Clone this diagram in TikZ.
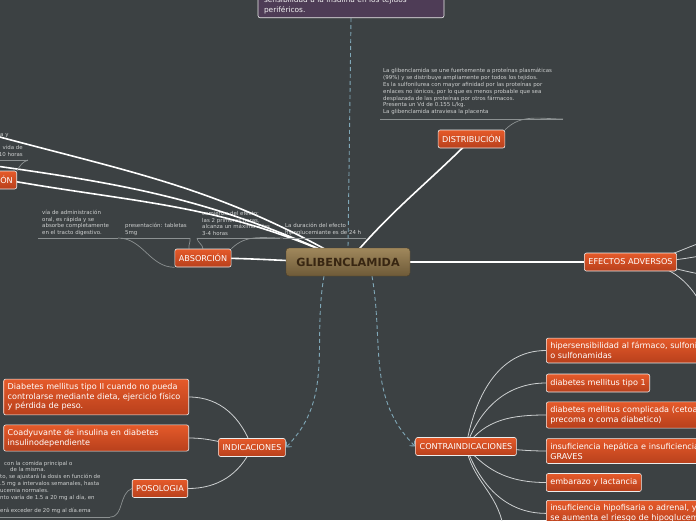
\documentclass[tikz,border=0pt]{standalone}
\usepackage{fontspec}
\setmainfont{DejaVu Sans}
\usepackage{tikz}
\usetikzlibrary{arrows.meta,positioning,backgrounds,calc}
\definecolor{mapbg}{RGB}{60,65,67}
\definecolor{topictop}{RGB}{229,90,42}
\definecolor{topicbot}{RGB}{184,64,28}
\definecolor{roottop}{RGB}{160,136,92}
\definecolor{rootbot}{RGB}{110,90,56}
\definecolor{roottext}{RGB}{56,38,18}
\definecolor{notebg}{RGB}{78,60,86}
\definecolor{linkblue}{RGB}{128,168,184}
\definecolor{memotext}{RGB}{206,208,208}
\definecolor{twig}{RGB}{205,208,209}
\definecolor{uline}{RGB}{140,145,146}

\begin{document}
\begin{tikzpicture}[x=1pt, y=1pt, font=\fontsize{8.1}{9.7}\selectfont,
  tp/.style={draw=white!85!gray, line width=0.6pt, rounded corners=2pt, top color=topictop, bottom color=topicbot, text=white, inner xsep=4pt, inner ysep=4.3pt, minimum height=18pt, align=left},
  rt/.style={draw=rootbot!70!black, rounded corners=3pt, top color=roottop, bottom color=rootbot, text=roottext, font=\fontsize{11.2}{13}\selectfont\bfseries, minimum width=124pt, minimum height=28pt},
  nb/.style={draw=white!85!gray, line width=0.6pt, rounded corners=2pt, fill=notebg, text=white!90!gray, font=\fontsize{7.4}{9.4}\selectfont, inner xsep=6pt, inner ysep=4pt, text width=174pt, align=left},
  mm/.style={text=memotext, font=\fontsize{5.45}{6.8}\selectfont, inner sep=0pt, align=left},
  br/.style={draw=white, line width=1.6pt},
  tw/.style={draw=twig, line width=0.8pt},
  ul/.style={draw=uline, line width=0.7pt},
  lk/.style={draw=linkblue, line width=0.9pt, dash pattern=on 4pt off 3pt}]
  \useasboundingbox (0,0) rectangle (696,-520);
  \clip (0,0) rectangle (696,-520);
  \node[rt] (glib) at (348,-262) {GLIBENCLAMIDA};
  \node[nb, anchor=south] (sens) at (351,-18) {sensibilidad a la insulina en los tejidos\\periféricos.};
  \node[tp] (dist) at (471.5,-139) {DISTRIBUCIÓN};
  \node[tp] (efec) at (630.5,-262) {EFECTOS ADVERSOS};
  \node[tp] (abs) at (203,-258) {ABSORCIÓN};
  \node[tp, anchor=east] (elim) at (17,-180) {ÓN};
  \node[tp] (ind) at (252,-447.5) {INDICACIONES};
  \node[tp] (contra) at (466,-446.5) {CONTRAINDICACIONES};
  \node[tp, anchor=east, text width=177pt] (dm2) at (189,-397) {Diabetes mellitus tipo II cuando no pueda\\controlarse mediante dieta, ejercicio físico\\y pérdida de peso.};
  \node[tp, anchor=east, text width=177pt] (coad) at (189,-438) {Coadyuvante de insulina en diabetes\\insulinodependiente};
  \node[tp] (pos) at (160,-488.5) {POSOLOGIA};
  \node[tp, anchor=west, text width=170pt] (ci1) at (546,-350.5) {hipersensibilidad al fármaco, sulfoni\\o sulfonamidas};
  \node[tp, anchor=west] (ci2) at (546,-383) {diabetes mellitus tipo 1};
  \node[tp, anchor=west, text width=170pt] (ci3) at (546,-415) {diabetes mellitus complicada (cetoac\\precoma o coma diabetico)};
  \node[tp, anchor=west, text width=170pt] (ci4) at (546,-451) {insuficiencia hepática e insuficiencia\\GRAVES};
  \node[tp, anchor=west] (ci5) at (546,-482.5) {embarazo y lactancia};
  \node[tp, anchor=north west, text width=170pt] (ci6) at (546,-500) {insuficiencia hipofisaria o adrenal, ya\\se aumenta el riesgo de hipoglucem};
  \begin{scope}[on background layer]
  \fill[mapbg] (0,0) rectangle (696,-520);
  \node[mm, anchor=south west] (distT) at (383,-115) {La glibenclamida se une fuertemente a proteínas plasmáticas\\(99\%) y se distribuye ampliamente por todos los tejidos.\\Es la sulfonilurea con mayor afinidad por las proteínas por\\enlaces no iónicos, por lo que es menos probable que sea\\desplazada de las proteínas por otros fármacos.\\Presenta un Vd de 0.155 L/kg.\\La glibenclamida atraviesa la placenta};
  \node[mm, anchor=south west] (viaT) at (42,-236) {vía de administración\\oral, es rápida y se\\absorbe completamente\\en el tracto digestivo.};
  \node[mm, anchor=south west] (presT) at (125,-236) {presentación: tabletas\\5mg};
  \node[mm, anchor=south west] (comT) at (202,-236) {comienzo del efecto:\\las 2 primeras horas,\\alcanza un máximo a las\\3-4 horas};
  \node[mm, anchor=south west] (durT) at (285,-236) {La duración del efecto\\hipoglucemiante es de 24 h};
  \node[mm, anchor=base west] (ayT) at (0,-136) {a y};
  \node[mm, anchor=south east, align=right] (vidaT) at (23,-157) {vida de\\10 horas};
  \node[mm, anchor=south west] (posT) at (0,-514) {\hspace{4pt}con la comida principal o\\\hspace{10pt}de la misma.\\to, se ajustará la dosis en función de\\.5 mg a intervalos semanales, hasta\\ucemia normales.\\nto varía de 1.5 a 20 mg al día, en\\\mbox{}\\erá exceder de 20 mg al día.ema};
  \coordinate (distL) at (380,-119); \coordinate (distR) at (563,-119);
  \coordinate (viaL) at (38,-238); \coordinate (viaR) at (118,-238);
  \coordinate (presL) at (121,-238); \coordinate (presR) at (190,-238);
  \coordinate (comL) at (197,-238); \coordinate (comR) at (280,-238);
  \coordinate (durL) at (283,-238); \coordinate (durR) at (366,-238);
  \coordinate (vidaL) at (0,-160); \coordinate (vidaR) at (28,-160);
  \coordinate (posL) at (0,-517); \coordinate (posR) at (110,-517);
  \coordinate (offA) at (-4,-136); \coordinate (offB) at (-4,-166);
  \coordinate (efA) at (700,-243); \coordinate (efB) at (700,-256);
  \coordinate (efC) at (700,-274); \coordinate (efD) at (700,-302);
  \coordinate (ciX) at (503,-526);
  \draw[lk] (sens.south) -- (glib.north);
  \draw[lk, -{Straight Barb[length=4pt, width=7pt]}] ([xshift=-24pt]glib.south) to[out=-100, in=45] (ind.east);
  \draw[lk, -{Straight Barb[length=4pt, width=7pt]}] ([xshift=24pt]glib.south) to[out=-80, in=135] (contra.west);
  \draw[br] (glib.center) to[out=50, in=-135] (dist.center);
  \draw[br] (glib.center) -- (efec.center);
  \draw[br] (glib.center) to[out=180, in=0] (abs.center);
  \draw[br] (glib.center) to[out=155, in=-10] (elim.center);
  \draw[br] (glib.center) to[out=150, in=-15] (offA);
  \draw[br] (glib.center) to[out=155, in=-8] (offB);
  \draw[ul] (distL) -- (distR) (viaL) -- (viaR) (presL) -- (presR) (comL) -- (comR) (durL) -- (durR) (vidaL) -- (vidaR) (posL) -- (posR);
  \draw[ul] (dist.north east) to[out=45, in=180] (distR);
  \draw[ul] (viaR) to[out=0, in=180] (abs.south west);
  \draw[ul] (presR) to[out=-80, in=100] ([xshift=-14pt]abs.north);
  \draw[ul] (abs.north) to[out=95, in=-85] (comL);
  \draw[ul] (abs.north east) to[out=45, in=180] (durL);
  \draw[ul] (elim.north east) to[out=60, in=200] (vidaR);
  \draw[ul] (pos.west) to[out=200, in=0] (posR);
  \draw[tw] (efec.center) to[out=0, in=200] (efA) (efec.center) to[out=0, in=190] (efB) (efec.center) to[out=0, in=170] (efC) (efec.center) to[out=0, in=120] (efD);
  \draw[tw] (ind.center) to[out=110, in=0] (dm2.east) (ind.center) to[out=175, in=0] (coad.east) (ind.center) to[out=-115, in=0] (pos.east);
  \foreach \c/\o in {ci1/80, ci2/70, ci3/55, ci4/0, ci5/-50, ci6/-70}
    \draw[tw] (contra.center) to[out=\o, in=180] (\c.west);
  \draw[tw] (contra.center) to[out=-80, in=100] (ciX);
  \end{scope}
\end{tikzpicture}
\end{document}
